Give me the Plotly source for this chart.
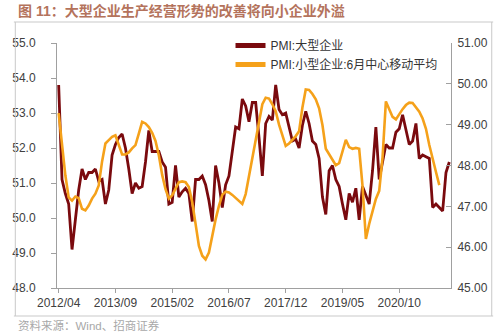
import pandas as pd
import plotly.graph_objects as go

# Monthly categories 2012/04 .. 2022/01
months = [p.strftime("%Y/%m") for p in pd.period_range("2012-04", "2022-01", freq="M")]

# PMI: large enterprises (left axis)
pmi_large = [
    53.8, 51.1, 50.7, 50.4, 49.1, 50.0, 50.8, 51.4, 51.1, 51.3,
    51.3, 51.4, 51.05, 51.1, 50.4, 50.8, 51.8, 52.1, 52.3, 52.4,
    52.0, 51.4, 50.7, 51.0, 50.85, 50.9, 51.6, 52.5, 51.9, 51.9,
    51.9, 51.6, 51.45, 50.4, 50.45, 51.5, 50.6, 50.75, 50.85, 50.7,
    49.9, 51.1, 51.1, 51.2, 50.95, 50.5, 49.9, 51.5, 51.0, 50.3,
    50.95, 51.2, 51.85, 52.6, 52.55, 53.4, 53.2, 52.75, 53.3, 53.3,
    52.3, 51.2, 52.7, 52.9, 52.8, 53.8, 53.1, 52.95, 53.0, 52.6,
    52.2, 52.25, 52.0, 52.65, 53.05, 52.7, 52.2, 52.1, 51.7, 50.6,
    50.1, 51.35, 51.5, 51.1, 50.9, 50.4, 49.95, 50.7, 50.45, 50.85,
    49.95, 50.9, 50.65, 50.4, 51.35, 52.6, 51.1, 51.65, 52.1, 52.0,
    52.0, 52.45, 52.55, 52.95, 52.5, 52.1, 52.2, 52.7, 51.7, 51.8,
    51.75, 51.7, 50.3, 50.4, 50.3, 50.2, 51.3, 51.6,
]

# PMI: small enterprises, 6-month centred moving average (right axis)
pmi_small_ma6 = [
    49.28, 48.55, 47.76, 47.22, 47.14, 47.24, 47.2, 46.94, 46.9, 47.02,
    47.19, 47.31, 47.51, 48.1, 48.54, 48.62, 48.7, 48.74, 48.5, 48.27,
    48.27, 48.32, 48.42, 48.5, 48.78, 49.07, 49.03, 48.94, 48.8, 48.6,
    48.25, 47.77, 47.42, 47.19, 47.27, 47.44, 47.59, 47.61, 47.59, 47.47,
    47.1, 46.57, 46.03, 45.79, 45.7, 45.87, 46.3, 46.68, 47.01, 47.28,
    47.36, 47.34, 47.28, 47.2, 47.12, 47.06, 47.3, 47.75, 48.15, 48.65,
    49.03, 49.5, 49.66, 49.64, 49.5, 49.33, 49.0, 48.72, 48.48, 48.54,
    48.63, 48.72, 48.84, 49.42, 49.86, 49.85, 49.75, 49.62, 49.4, 48.99,
    48.41, 48.27, 48.14, 48.01, 48.06, 48.38, 48.63, 48.45, 48.41, 48.43,
    48.41, 47.5, 46.2, 46.57, 46.9, 47.18, 47.38, 48.2, 49.57, 49.36,
    49.19, 49.13, 49.27, 49.38, 49.48, 49.54, 49.53, 49.43, 49.32, 49.15,
    48.9, 48.5, 48.13, 47.84, 47.52,
]

x_ticks = ["2012/04", "2013/09", "2015/02", "2016/07", "2017/12", "2019/05", "2020/10"]
left_ticks = [48, 49, 50, 51, 52, 53, 54, 55]
right_ticks = [45, 46, 47, 48, 49, 50, 51]

name_large = "PMI:大型企业"
name_small = "PMI:小型企业:6月中心移动平均"
title_text = "图 11：大型企业生产经营形势的改善将向小企业外溢"
source_text = "资料来源：Wind、招商证券"

W, H = 500, 332
ML, MR, MT, MB = 45, 44, 43, 44
PW, PH = W - ML - MR, H - MT - MB


def px(xp):
    return (xp - ML) / PW


def py(yp):
    return (H - MB - yp) / PH


FONT = "Arial, Liberation Sans, Noto Sans CJK SC, sans-serif"

fig = go.Figure()
fig.add_trace(go.Scatter(
    x=months, y=pmi_large, name=name_large, mode="lines",
    line=dict(color="#7A0A0E", width=2.8), yaxis="y",
))
fig.add_trace(go.Scatter(
    x=months[:len(pmi_small_ma6)], y=pmi_small_ma6, name=name_small, mode="lines",
    line=dict(color="#F5A11A", width=2.6), yaxis="y2",
))

axis_color = "#A0A0A0"
fig.update_layout(
    width=W, height=H,
    margin=dict(l=ML, r=MR, t=MT, b=MB),
    paper_bgcolor="white", plot_bgcolor="white",
    font=dict(family=FONT, size=12, color="#404040"),
    showlegend=True,
    legend=dict(
        x=px(226), y=py(31), xanchor="left", yanchor="top",
        bgcolor="rgba(0,0,0,0)", font=dict(size=12, color="#333333"),
        tracegroupgap=0, itemsizing="constant",
    ),
    xaxis=dict(
        type="category", categoryorder="array", categoryarray=months,
        range=[-0.5, len(months) - 0.5],
        tickmode="array", tickvals=x_ticks, ticktext=x_ticks,
        ticks="outside", ticklen=4, tickcolor=axis_color,
        showline=True, linecolor=axis_color, linewidth=1,
        showgrid=False, zeroline=False, tickangle=0,
        tickfont=dict(size=12, color="#404040"),
    ),
    yaxis=dict(
        range=[48, 55], tickmode="array", tickvals=left_ticks,
        tickformat=".1f", ticks="outside", ticklen=5, tickcolor=axis_color,
        showline=True, linecolor=axis_color, linewidth=1,
        showgrid=False, zeroline=False,
        ticklabelstandoff=13,
        tickfont=dict(size=12, color="#404040"),
    ),
    yaxis2=dict(
        range=[45, 51], overlaying="y", side="right",
        tickmode="array", tickvals=right_ticks, tickformat=".2f",
        ticks="inside", ticklen=5, tickcolor=axis_color,
        showline=True, linecolor=axis_color, linewidth=1,
        showgrid=False, zeroline=False,
        ticklabelstandoff=3,
        tickfont=dict(size=12, color="#404040"),
    ),
)

# Header title and footer source line
fig.add_annotation(
    xref="paper", yref="paper", x=px(2), y=py(11), xanchor="left", yanchor="middle",
    text="<b>" + title_text + "</b>", showarrow=False,
    font=dict(family=FONT, size=14, color="#B4735C"),
)
fig.add_annotation(
    xref="paper", yref="paper", x=px(2), y=py(325), xanchor="left", yanchor="middle",
    text=source_text, showarrow=False,
    font=dict(family=FONT, size=11.5, color="#A8A8A8"),
)

# Frame around the chart body
frame = "#C9C9C9"
for x0, y0, x1, y1 in [
    (0, 22, W, 22),
    (0, 316, W, 316),
    (1.5, 22, 1.5, 316),
    (498.5, 22, 498.5, 316),
]:
    fig.add_shape(type="line", xref="paper", yref="paper",
                  x0=px(x0), y0=py(y0), x1=px(x1), y1=py(y1),
                  line=dict(color=frame, width=1))

fig.write_html("out.html")
